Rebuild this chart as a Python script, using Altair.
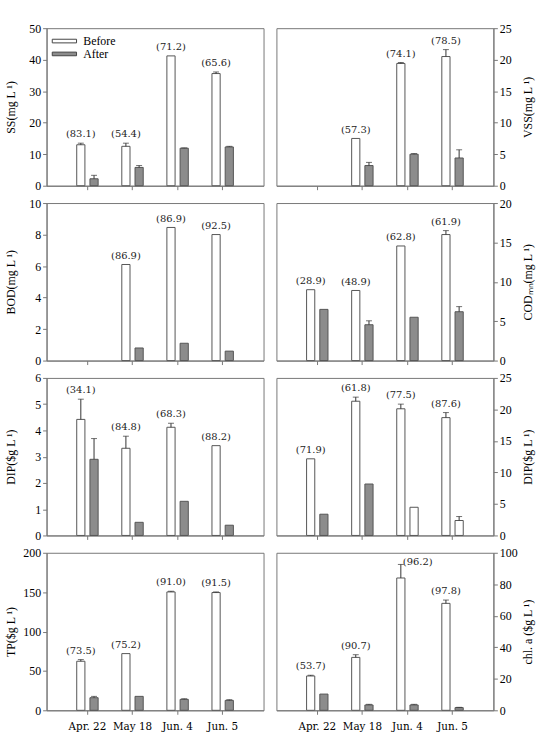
import altair as alt
import pandas as pd

dates = ["Apr. 22", "May 18", "Jun. 4", "Jun. 5"]
series = ["Before", "After"]

# SS (mg/L)
ss_before = [13.0, 12.5, 41.2, 35.6]
ss_before_err = [0.5, 1.0, 0.0, 0.5]
ss_after = [2.2, 5.8, 11.9, 12.3]
ss_after_err = [1.1, 0.6, 0.1, 0.2]
ss_pct = [83.1, 54.4, 71.2, 65.6]

# VSS (mg/L)
vss_before = [None, 7.5, 19.4, 20.5]
vss_before_err = [0.0, 0.0, 0.15, 1.1]
vss_after = [None, 3.2, 5.0, 4.4]
vss_after_err = [0.0, 0.5, 0.1, 1.3]
vss_pct = [None, 57.3, 74.1, 78.5]

# BOD (mg/L)
bod_before = [None, 6.1, 8.45, 8.0]
bod_before_err = [0.0, 0.0, 0.0, 0.0]
bod_after = [None, 0.8, 1.1, 0.6]
bod_after_err = [0.0, 0.0, 0.0, 0.0]
bod_pct = [None, 86.9, 86.9, 92.5]

# COD_Mn (mg/L)
cod_before = [9.0, 8.9, 14.55, 16.0]
cod_before_err = [0.0, 0.0, 0.0, 0.5]
cod_after = [6.5, 4.55, 5.5, 6.2]
cod_after_err = [0.0, 0.5, 0.0, 0.65]
cod_pct = [28.9, 48.9, 62.8, 61.9]

# DIP (left panel)
dip1_before = [4.42, 3.32, 4.12, 3.42]
dip1_before_err = [0.77, 0.46, 0.15, 0.0]
dip1_after = [2.9, 0.5, 1.3, 0.39]
dip1_after_err = [0.79, 0.0, 0.0, 0.0]
dip1_pct = [34.1, 84.8, 68.3, 88.2]

# DIP (right panel)
dip2_before = [12.16, 21.3, 20.1, 18.7]
dip2_before_err = [0.0, 0.65, 0.74, 0.8]
dip2_after = [3.37, 8.16, 4.47, 2.37]
dip2_after_err = [0.0, 0.0, 0.0, 0.63]
dip2_pct = [71.9, 61.8, 77.5, 87.6]
dip2_hollow_after = [False, False, True, True]

# TP
tp_before = [62.3, 72.0, 150.3, 149.5]
tp_before_err = [2.1, 0.0, 0.9, 0.8]
tp_after = [16.0, 17.7, 13.9, 12.6]
tp_after_err = [1.7, 0.0, 0.8, 0.9]
tp_pct = [73.5, 75.2, 91.0, 91.5]

# chl. a
chl_before = [21.8, 33.6, 84.0, 67.9]
chl_before_err = [0.5, 1.7, 8.6, 2.1]
chl_after = [10.3, 3.4, 3.4, 1.7]
chl_after_err = [0.0, 0.4, 0.4, 0.2]
chl_pct = [53.7, 90.7, 96.2, 97.8]
chl_label_beside = [False, False, True, False]

W, H = 219, 159
SERIF = "Liberation Serif"
DJ = "DejaVu Serif"
GRAY = "#8c8c8c"
AXC = "#777777"


def panel(before, berr, after, aerr, pct, ymax, step, title, side,
          bottom=False, legend=False, hollow=None, beside=None):
    rows, labs = [], []
    for i, d in enumerate(dates):
        for s, v, e in (("Before", before[i], berr[i]), ("After", after[i], aerr[i])):
            if v is None:
                continue
            h = bool(hollow[i]) if (hollow is not None and s == "After") else False
            rows.append({"date": d, "series": s, "value": v, "top": v + e,
                         "err": e, "hollow": h})
        if pct[i] is not None:
            labs.append({"date": d, "series": "Before",
                         "top": before[i] + berr[i],
                         "text": f"({pct[i]:.1f})",
                         "beside": bool(beside[i]) if beside is not None else False})
    df = pd.DataFrame(rows)
    lf = pd.DataFrame(labs)

    xaxis = alt.Axis(title=None, labels=bottom, ticks=True, tickSize=4,
                     labelFont=DJ, labelFontSize=10.5, labelColor="black",
                     labelPadding=7, labelAngle=0,
                     domainColor=AXC, tickColor=AXC)
    xscale = alt.Scale(domain=dates, paddingInner=0.525, paddingOuter=0.669)
    xenc = alt.X("date:N", sort=dates, scale=xscale, axis=xaxis)
    xoff = alt.XOffset("series:N", sort=series,
                       scale=alt.Scale(domain=series, paddingInner=0.38, paddingOuter=0))
    vals = list(range(0, ymax + 1, step))
    common = dict(title=title, values=vals, grid=False, tickSize=4, labelPadding=2,
                  labelOverlap=False, labelFlush=False,
                  labelFont=SERIF, labelFontSize=12, labelColor="black",
                  titleFont=SERIF, titleFontSize=12, titleFontWeight="normal",
                  titleColor="black", titleAngle=270, titleBaseline="bottom",
                  titleAlign="center", titleY=H / 2,
                  domainColor=AXC, tickColor=AXC)
    if side == "left":
        yaxis = alt.Axis(orient="left", titleX=-29, **common)
    else:
        yaxis = alt.Axis(orient="right", titleX=41, **common)
    yscale = alt.Scale(domain=[0, ymax], nice=False, zero=True)

    if legend:
        leg = alt.Legend(title=None, orient="none", legendX=11, legendY=6,
                         symbolType="M-2,-0.3L2,-0.3L2,0.3L-2,0.3Z",
                         symbolSize=150, symbolStrokeColor="#444",
                         symbolStrokeWidth=1, labelFont=SERIF, labelFontSize=12,
                         labelColor="black", rowPadding=-3, labelOffset=12)
    else:
        leg = None
    fill = alt.condition(
        "datum.hollow",
        alt.value("white"),
        alt.Fill("series:N", sort=series,
                 scale=alt.Scale(domain=series, range=["white", GRAY]),
                 legend=leg),
    )

    base = alt.Chart(df)
    bars = base.mark_bar(stroke="#555555", strokeWidth=1).encode(
        x=xenc, xOffset=xoff, y=alt.Y("value:Q", scale=yscale, axis=yaxis), fill=fill)
    errs = base.transform_filter("datum.err > 0").mark_rule(color="#333333", strokeWidth=1).encode(
        x=xenc, xOffset=xoff, y=alt.Y("value:Q", scale=yscale, axis=yaxis), y2="top:Q")
    caps = base.transform_filter("datum.err > 0").mark_tick(
        color="#333333", size=6, thickness=1).encode(
        x=xenc, xOffset=xoff, y=alt.Y("top:Q", scale=yscale, axis=yaxis))
    layers = [bars, errs, caps]
    if len(lf):
        lab = alt.Chart(lf).transform_filter("!datum.beside").mark_text(
            font=DJ, fontSize=10, baseline="bottom", dy=-4, color="#222222").encode(
            x=xenc, xOffset=xoff, y=alt.Y("top:Q", scale=yscale, axis=yaxis), text="text:N")
        lab2 = alt.Chart(lf).transform_filter("datum.beside").mark_text(
            font=DJ, fontSize=10, baseline="middle", align="left", dx=2, dy=-2,
            color="#222222").encode(
            x=xenc, xOffset=xoff, y=alt.Y("top:Q", scale=yscale, axis=yaxis), text="text:N")
        layers += [lab, lab2]
    return alt.layer(*layers).properties(width=W, height=H)


p1 = panel(ss_before, ss_before_err, ss_after, ss_after_err, ss_pct, 50, 10,
           "SS(mg L  ¹)", "left", legend=True)
p2 = panel(vss_before, vss_before_err, vss_after, vss_after_err, vss_pct, 25, 5,
           "VSS(mg L  ¹)", "right")
p3 = panel(bod_before, bod_before_err, bod_after, bod_after_err, bod_pct, 10, 2,
           "BOD(mg L  ¹)", "left")
p4 = panel(cod_before, cod_before_err, cod_after, cod_after_err, cod_pct, 20, 5,
           "CODₘₙ(mg L  ¹)", "right")
p5 = panel(dip1_before, dip1_before_err, dip1_after, dip1_after_err, dip1_pct, 6, 1,
           "DIP($g L  ¹)", "left")
p6 = panel(dip2_before, dip2_before_err, dip2_after, dip2_after_err, dip2_pct, 25, 5,
           "DIP($g L  ¹)", "right", hollow=dip2_hollow_after)
p7 = panel(tp_before, tp_before_err, tp_after, tp_after_err, tp_pct, 200, 50,
           "TP($g L  ¹)", "left", bottom=True)
p8 = panel(chl_before, chl_before_err, chl_after, chl_after_err, chl_pct, 100, 20,
           "chl. a ($g L  ¹)", "right", bottom=True, beside=chl_label_beside)

chart = alt.concat(p1, p2, p3, p4, p5, p6, p7, p8, columns=2,
                   spacing=alt.RowColnumber(row=17.5, column=13),
                   bounds="flush").properties(
    padding={"left": 4, "top": 18, "right": 2, "bottom": 2},
).configure_view(stroke=AXC, strokeWidth=1)

chart.save("out.html", embed_options={"renderer": "svg", "actions": False})
